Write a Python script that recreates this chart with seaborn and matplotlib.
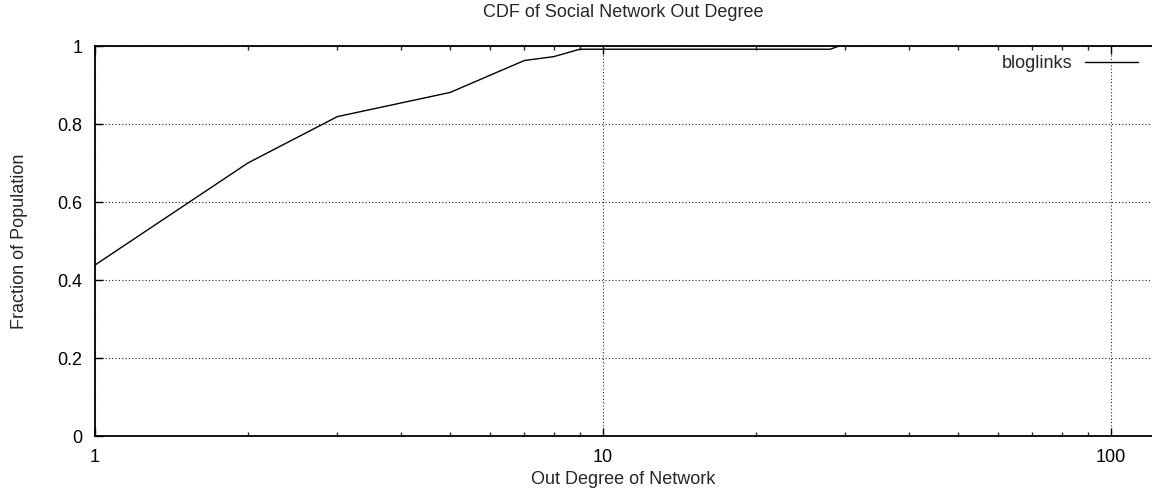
import matplotlib
matplotlib.use("Agg")
import matplotlib.pyplot as plt
from matplotlib.ticker import FixedLocator, FuncFormatter, LogLocator, NullFormatter
import seaborn as sns
import pandas as pd

# Cumulative distribution of out degree
out_degree = [1, 2, 3, 5, 7, 8, 9, 28, 29]
fraction = [0.439, 0.701, 0.820, 0.882, 0.964, 0.974, 0.993, 0.993, 1.0]
series_name = "bloglinks"

x_ticks = [1, 10, 100]
y_ticks = [0, 0.2, 0.4, 0.6, 0.8, 1.0]

sns.set_theme(style="ticks")
plt.rcParams["font.family"] = ["Liberation Sans", "DejaVu Sans"]

df = pd.DataFrame({"degree": out_degree, "fraction": fraction, "series": series_name})

fig = plt.figure(figsize=(11.52, 4.90), dpi=100)
W, H = 1152, 490
left, right, top, bottom = 95, 1152, 46.5, 436
ax = fig.add_axes([left / W, 1 - bottom / H, (right - left) / W, (bottom - top) / H])

sns.lineplot(data=df, x="degree", y="fraction", ax=ax, color="black",
             linewidth=1.0, legend=False, estimator=None, sort=False)

ax.set_xscale("log")
ax.set_xlim(1, 10 ** ((right - left) / 508.0))
ax.set_ylim(0, 1)

ax.xaxis.set_major_locator(FixedLocator(x_ticks))
ax.xaxis.set_major_formatter(FuncFormatter(lambda v, p: f"{v:g}"))
ax.xaxis.set_minor_locator(LogLocator(base=10, subs=range(2, 10)))
ax.xaxis.set_minor_formatter(NullFormatter())
ax.yaxis.set_major_locator(FixedLocator(y_ticks))
ax.yaxis.set_major_formatter(FuncFormatter(lambda v, p: f"{v:g}"))

ax.tick_params(axis="both", which="major", direction="in", length=5.8, width=1.0,
               labelsize=13, pad=9, colors="black")
ax.tick_params(axis="x", which="minor", direction="in", length=3.0, width=1.0)
ax.tick_params(axis="x", which="both", top=True)
ax.tick_params(axis="y", which="both", right=False)

for side in ("left", "bottom", "top"):
    ax.spines[side].set_linewidth(1.3)
    ax.spines[side].set_color("black")
ax.spines["right"].set_visible(False)

ax.grid(True, which="major", color="#222222", linestyle=(0, (1, 2)), linewidth=0.8)
ax.set_axisbelow(True)

ax.set_xlabel("Out Degree of Network", fontsize=13, labelpad=4)
ax.set_ylabel("Fraction of Population", fontsize=13, labelpad=21)
ax.set_title("CDF of Social Network Out Degree", fontsize=13, pad=21)

handle = plt.Line2D([], [], color="black", linewidth=1.0)
ax.legend([handle], [series_name], loc="center right", frameon=False,
          markerfirst=False, fontsize=13, handlelength=2.94, handletextpad=0.67,
          borderpad=0, borderaxespad=0,
          bbox_to_anchor=(1138 / W, 1 - 64 / H), bbox_transform=fig.transFigure)

fig.savefig("out.png", dpi=100)
